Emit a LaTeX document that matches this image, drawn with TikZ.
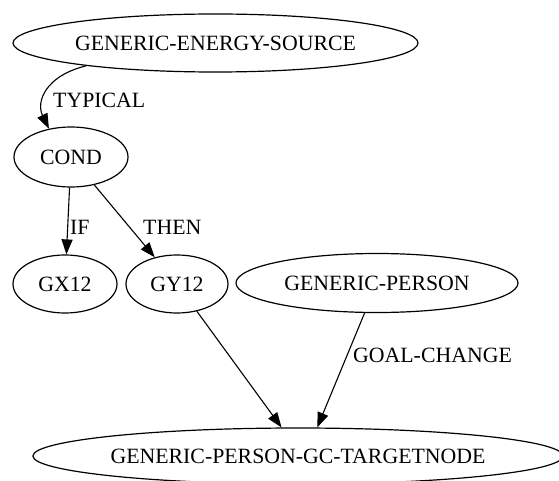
\documentclass[tikz,border=0pt]{standalone}
\usepackage{fontspec}
\setmainfont{Liberation Serif}
\usetikzlibrary{shapes.geometric,arrows.meta}
\begin{document}
\begin{tikzpicture}[x=1pt,y=-1pt,
  every node/.style={font=\fontsize{21.8}{24}\selectfont},
  oval/.style={draw,ellipse,line width=1.2pt,inner sep=0pt},
  edge/.style={draw,line width=1.1pt,-{Triangle[length=15pt,width=11pt]}},
  lbl/.style={anchor=west,inner sep=0pt}]
\useasboundingbox (0,0) rectangle (559,481);
\node[oval,minimum width=405pt,minimum height=58pt] (ges) at (215.5,43) {GENERIC-ENERGY-SOURCE};
\node[oval,minimum width=114pt,minimum height=60pt] (cond) at (71,157) {COND};
\node[oval,minimum width=104pt,minimum height=58pt] (gx) at (65,284) {GX12};
\node[oval,minimum width=102pt,minimum height=58pt] (gy) at (177,284) {GY12};
\node[oval,minimum width=282pt,minimum height=59pt] (gp) at (377,283) {GENERIC-PERSON};
\node[oval,minimum width=521pt,minimum height=56pt] (tgt) at (298,456) {GENERIC-PERSON-GC-TARGETNODE};
\draw[edge] (ges.190) .. controls (45,76) and (36,102) .. (cond.128);
\node[lbl] (ltyp) at (53,100) {TYPICAL};
\draw[edge] (cond) -- (gx);
\node[lbl] (lif) at (70,227) {IF};
\draw[edge] (cond) -- (gy);
\node[lbl] (lthen) at (143,227) {THEN};
\draw[edge] (gy) -- (tgt.120);
\draw[edge] (gp) -- (tgt.56);
\node[lbl] (lgoal) at (353,355) {GOAL-CHANGE};
\end{tikzpicture}
\end{document}
